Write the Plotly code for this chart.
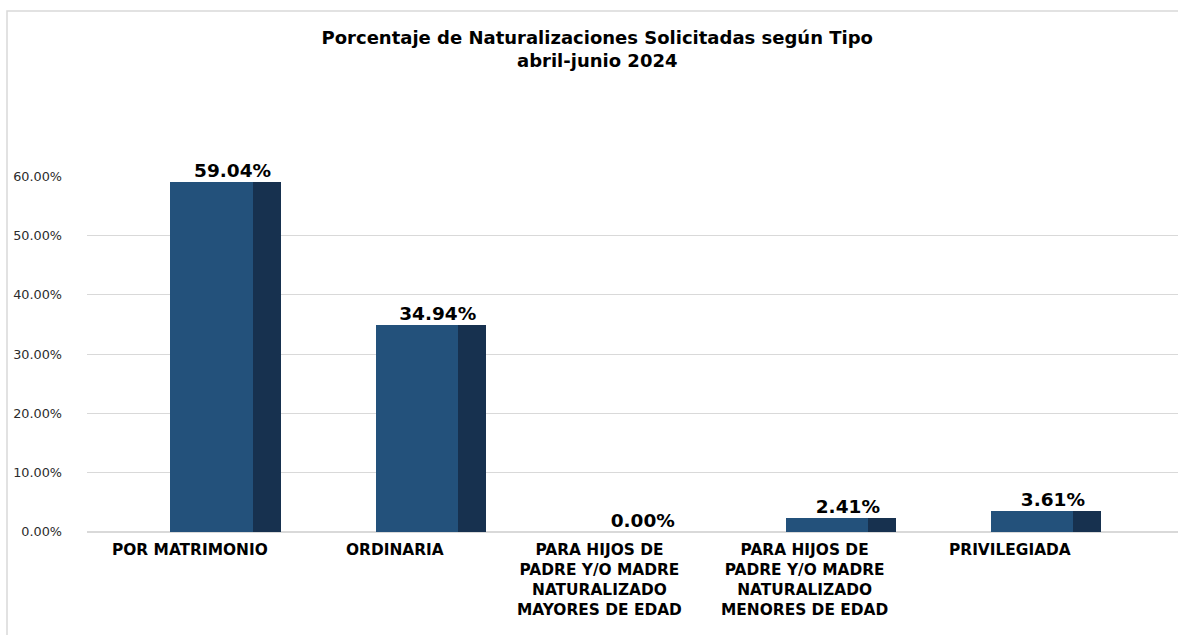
import plotly.graph_objects as go

categories = [
    "POR MATRIMONIO",
    "ORDINARIA",
    "PARA HIJOS DE<br>PADRE Y/O MADRE<br>NATURALIZADO<br>MAYORES DE EDAD",
    "PARA HIJOS DE<br>PADRE Y/O MADRE<br>NATURALIZADO<br>MENORES DE EDAD",
    "PRIVILEGIADA",
]
values = [59.04, 34.94, 0.00, 2.41, 3.61]
value_labels = ["59.04%", "34.94%", "0.00%", "2.41%", "3.61%"]
y_ticks = [0, 10, 20, 30, 40, 50, 60]
y_ticktext = ["0.00%", "10.00%", "20.00%", "30.00%", "40.00%", "50.00%", "60.00%"]

FRONT = "#23517B"
SIDE = "#17314F"

xs = list(range(len(categories)))

fig = go.Figure()
fig.add_trace(go.Bar(
    x=xs, y=values, width=0.40, offset=-0.093,
    marker=dict(color=FRONT, line=dict(width=0)),
    hoverinfo="skip", showlegend=False,
))
fig.add_trace(go.Bar(
    x=xs, y=values, width=0.137, offset=0.307,
    marker=dict(color=SIDE, line=dict(width=0)),
    hoverinfo="skip", showlegend=False,
))
fig.add_trace(go.Scatter(
    x=[x + 0.21 for x in xs], y=values, mode="text", text=value_labels,
    textposition="top center",
    textfont=dict(family="DejaVu Sans", size=18.5, color="#000000", weight="bold"),
    hoverinfo="skip", showlegend=False, cliponaxis=False,
))

annotations = []
for i, c in enumerate(categories):
    annotations.append(dict(
        x=i, y=0, xref="x", yref="y", text="<b>" + c + "</b>", showarrow=False,
        xanchor="center", yanchor="top", yshift=-7, align="center",
        font=dict(family="DejaVu Sans", size=15.4, color="#000000"),
    ))

L, T, B, W, H = 87, 176, 103, 1178, 635
pw = W - L
ph = H - T - B

def px_x(p):
    return (p - L) / pw

def px_y(p):
    return (H - B - p) / ph

fig.update_layout(
    width=W, height=H,
    margin=dict(l=L, r=0, t=T, b=B),
    paper_bgcolor="white", plot_bgcolor="white",
    barmode="overlay", bargap=0,
    title=dict(
        text="<b>Porcentaje de Naturalizaciones Solicitadas según Tipo<br>abril-junio 2024</b>",
        x=0.507, xanchor="center", y=1 - 44 / H, yanchor="middle",
        font=dict(family="DejaVu Sans", size=18, color="#000000"),
    ),
    xaxis=dict(range=[-0.5, 4.82], showticklabels=False, showgrid=False,
               zeroline=False, showline=False, ticks=""),
    yaxis=dict(range=[0, 60.02], tickvals=y_ticks, ticktext=y_ticktext,
               showgrid=True, gridcolor="#D9D9D9", gridwidth=1,
               zeroline=True, zerolinecolor="#D9D9D9", zerolinewidth=1.5,
               showline=False, ticks="", ticklabelstandoff=24,
               tickfont=dict(family="DejaVu Sans", size=12.8, color="#2B2B2B")),
    annotations=annotations,
    shapes=[dict(type="rect", xref="paper", yref="paper",
                 x0=px_x(7), x1=px_x(1182), y0=px_y(640), y1=px_y(11),
                 line=dict(color="#D9D9D9", width=1.5), fillcolor="rgba(0,0,0,0)",
                 layer="below")],
)

fig.write_html("out.html", config={"displayModeBar": False},
               post_script="document.body.style.margin='0';document.body.style.padding='0';")
